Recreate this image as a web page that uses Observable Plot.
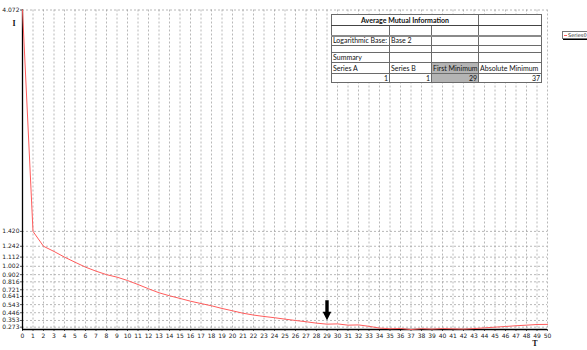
<!DOCTYPE html>
<html>
<head>
<meta charset="utf-8">
<script src="https://cdn.jsdelivr.net/npm/d3@7"></script>
<script src="https://cdn.jsdelivr.net/npm/@observablehq/plot@0.6"></script>
<style>
  body { margin: 0; background: #fff; }
  #wrap { position: relative; width: 587px; height: 350px; overflow: hidden; background: #fff; }
  #summary {
    position: absolute; left: 331px; top: 14px; width: 210px;
    border-collapse: collapse; table-layout: fixed;
    font-family: Lato, "Liberation Sans", sans-serif; font-size: 7px; line-height: 7px; color: #111;
    background: #fff;
  }
  #summary td { border: 1px solid #6a6a6a; padding: 0 1px; overflow: hidden; white-space: nowrap; }
  #summary td.title { font-weight: bold; text-align: center; }
  #summary td.num { text-align: right; }
  #summary td.hl { background: #b4b4b4; }
  #summary tr.thick td { border-bottom: 2px solid #8a8a8a; }
  #summary tr.head td { border-bottom: 1.5px solid #444; }
  #legend {
    position: absolute; left: 562px; top: 31px; width: 40px; height: 6px;
    border: 1px solid #777; background: #fff; box-shadow: 1px 1px 0 #000;
    font-family: "DejaVu Sans", sans-serif; font-size: 5px; line-height: 6px; color: #222; white-space: nowrap;
  }
  #legend .swatch { display: inline-block; width: 3px; height: 1px; background: #ff5c5c; vertical-align: middle; margin: 0 1px 0 1px; }
</style>
</head>
<body>
<div id="wrap"></div>
<script>
// Average mutual information by time lag T
const lags = [0, 1, 2, 3, 4, 5, 6, 7, 8, 9, 10, 11, 12, 13, 14, 15, 16, 17, 18, 19, 20,
  21, 22, 23, 24, 25, 26, 27, 28, 29, 30, 31, 32, 33, 34, 35, 36, 37, 38, 39, 40,
  41, 42, 43, 44, 45, 46, 47, 48, 49, 50];
const ami = [4.072, 1.420, 1.242, 1.180, 1.112, 1.051, 0.992, 0.944, 0.902, 0.872, 0.832,
  0.784, 0.733, 0.685, 0.649, 0.617, 0.584, 0.556, 0.529, 0.497, 0.469,
  0.440, 0.418, 0.401, 0.386, 0.369, 0.353, 0.338, 0.321, 0.309, 0.312,
  0.297, 0.300, 0.283, 0.262, 0.254, 0.257, 0.245, 0.255, 0.250, 0.256,
  0.253, 0.250, 0.256, 0.265, 0.273, 0.281, 0.290, 0.297, 0.305, 0.306];

// Value-axis tick labels
const yTicks = [4.072, 1.420, 1.242, 1.112, 1.002, 0.902, 0.816, 0.721, 0.641, 0.543, 0.446, 0.353, 0.273];

// Summary table contents
const tableTitle = "Average Mutual Information";
const logBaseLabel = "Logarithmic Base:";
const logBase = "Base 2";
const summaryLabel = "Summary";
const summaryHeaders = ["Series A", "Series B", "First Minimum", "Absolute Minimum"];
const seriesA = 1, seriesB = 1, firstMinimum = 29, absoluteMinimum = 37;
const seriesName = "Series0";

const data = lags.map((t, i) => ({t, v: ami[i]}));
const yMin = d3.min(ami);
const yMax = d3.max(ami);

// Filled block arrow drawn pointing along the vector
const blockArrow = {
  draw(ctx, l) {
    const w = 1.7, hw = 4.3, hl = 8.5;
    ctx.moveTo(-w, 0);
    ctx.lineTo(-w, -l + hl);
    ctx.lineTo(-hw, -l + hl);
    ctx.lineTo(0, -l);
    ctx.lineTo(hw, -l + hl);
    ctx.lineTo(w, -l + hl);
    ctx.lineTo(w, 0);
    ctx.closePath();
  }
};

const grid = {stroke: "#9a9a9a", strokeOpacity: 0.7, strokeDasharray: "2,2"};

const chart = Plot.plot({
  width: 587,
  height: 350,
  marginLeft: 22,
  marginRight: 40,
  marginTop: 9.5,
  marginBottom: 21,
  style: {fontFamily: "'DejaVu Sans', sans-serif", fontSize: "6px", color: "#222", background: "white"},
  x: {domain: [0, 50], label: null},
  y: {domain: [yMin, yMax], label: null},
  marks: [
    Plot.gridX(lags, grid),
    Plot.gridY(yTicks, grid),
    Plot.axisX(lags, {tickSize: 2, tickPadding: 2, tickFormat: d => d, stroke: "#555", label: null}),
    Plot.axisY(yTicks, {tickSize: 2, tickPadding: 1, tickFormat: d => d.toFixed(3), stroke: "#555", label: null}),
    Plot.ruleX([0], {stroke: "#000", strokeWidth: 1.3}),
    Plot.ruleY([yMin], {stroke: "#000", strokeWidth: 1.3}),
    Plot.line(data, {x: "t", y: "v", stroke: "#ff5c5c", strokeWidth: 1}),
    Plot.vector(data.filter(d => d.t === firstMinimum), {
      x: "t", y: "v", length: 20, rotate: 180, anchor: "end",
      shape: blockArrow, fill: "black", stroke: "none", dy: -4
    }),
    Plot.text(["I"], {frameAnchor: "top-left", dx: -10, dy: 10.5, fontFamily: "'Liberation Serif', serif",
      fontWeight: "bold", fontSize: 8, fill: "#111"}),
    Plot.text(["T"], {frameAnchor: "bottom-right", dx: -10, dy: 16, fontFamily: "'Liberation Serif', serif",
      fontWeight: "bold", fontSize: 8, fill: "#111"})
  ]
});

const wrap = document.getElementById("wrap");
wrap.appendChild(chart);

// Summary table overlay
const rowHeights = [11, 10, 10, 7, 10, 11, 9];
const colWidths = [58, 42, 47, 63];
const rows = [
  {cls: "head", cells: [{text: tableTitle, cls: "title", span: 3}, {text: ""}]},
  {cls: "thick", cells: [{text: ""}, {text: ""}, {text: ""}, {text: ""}]},
  {cells: [{text: logBaseLabel}, {text: logBase}, {text: ""}, {text: ""}]},
  {cells: [{text: ""}, {text: ""}, {text: ""}, {text: ""}]},
  {cells: [{text: summaryLabel}, {text: ""}, {text: ""}, {text: ""}]},
  {cells: summaryHeaders.map((h, i) => ({text: h, cls: i === 2 ? "hl" : ""}))},
  {cells: [seriesA, seriesB, firstMinimum, absoluteMinimum].map((v, i) => ({text: String(v), cls: "num" + (i === 2 ? " hl" : "")}))}
];
const table = document.createElement("table");
table.id = "summary";
const colgroup = document.createElement("colgroup");
colWidths.forEach(w => { const c = document.createElement("col"); c.style.width = w + "px"; colgroup.appendChild(c); });
table.appendChild(colgroup);
rows.forEach((r, ri) => {
  const tr = document.createElement("tr");
  if (r.cls) tr.className = r.cls;
  tr.style.height = rowHeights[ri] + "px";
  r.cells.forEach(c => {
    const td = document.createElement("td");
    td.textContent = c.text;
    if (c.cls) td.className = c.cls;
    if (c.span) td.colSpan = c.span;
    tr.appendChild(td);
  });
  table.appendChild(tr);
});
wrap.appendChild(table);

// Series legend
const legend = document.createElement("div");
legend.id = "legend";
const sw = document.createElement("span");
sw.className = "swatch";
legend.appendChild(sw);
legend.appendChild(document.createTextNode(seriesName));
wrap.appendChild(legend);
</script>
</body>
</html>
